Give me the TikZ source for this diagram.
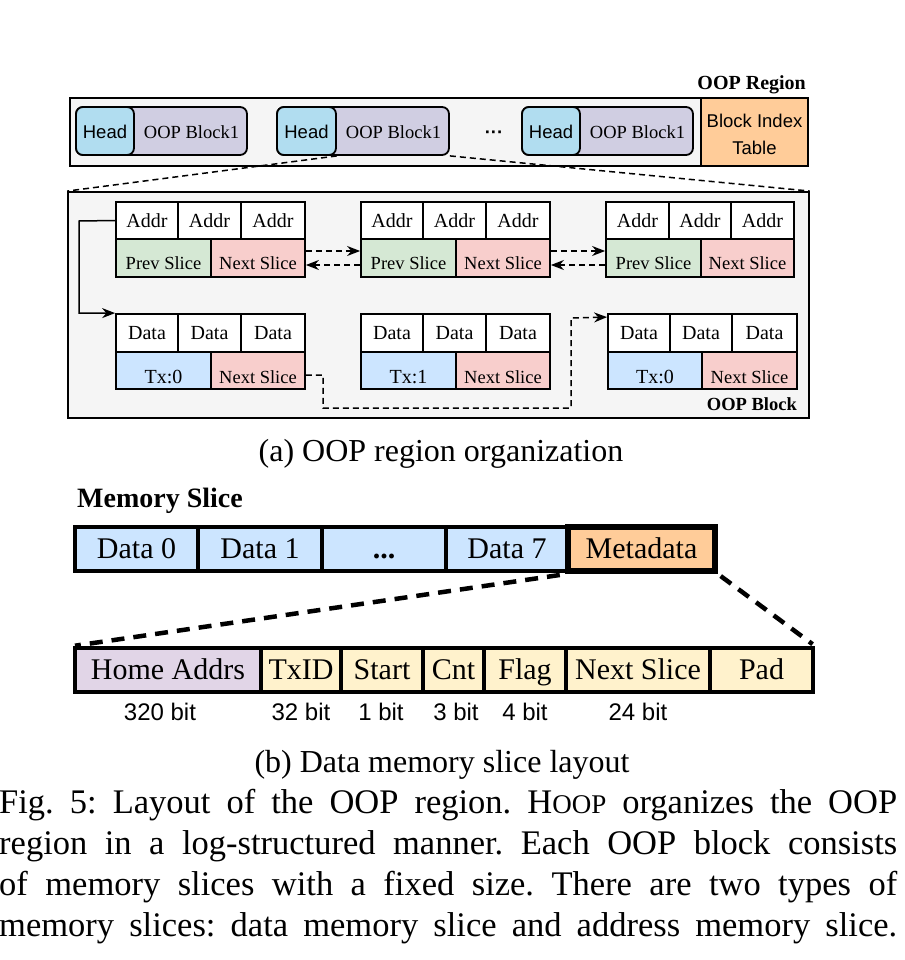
\documentclass[tikz,border=0pt]{standalone}
\usepackage{fontspec}
\setmainfont{Liberation Serif}
\setsansfont{Liberation Sans}
\usetikzlibrary{arrows.meta}
\frenchspacing
\definecolor{bggray}{HTML}{F5F5F5}
\definecolor{headblue}{HTML}{B1DDF0}
\definecolor{blockpurple}{HTML}{D0CEE2}
\definecolor{tableorange}{HTML}{FFCC99}
\definecolor{prevgreen}{HTML}{D5E8D4}
\definecolor{nextred}{HTML}{F8CECC}
\definecolor{txblue}{HTML}{CCE5FF}
\definecolor{homepurple}{HTML}{E1D5E7}
\definecolor{fieldyellow}{HTML}{FFF2CC}
\newcommand\fsz[2]{\fontsize{#1}{#2}\selectfont}
% [style]{name}{x1}{y1}{x2}{y2}{fill}{text}
\newcommand\boxcell[8][]{\node[cellbase,#1,fill=#7,minimum width={#5-#3},minimum height={#6-#4}] (#2) at ({(#3+#5)/2},{(#4+#6)/2}) {#8};}
\tikzset{
  cellbase/.style={draw=black, line width=1.8pt, inner sep=0pt, text depth=0pt},
  addrcell/.style={font=\fsz{20}{24}, text height=13.2pt},
  slicecell/.style={font=\fsz{18.5}{22}, text height=22pt},
  lowcell/.style={font=\fsz{20}{24}, text height=25pt},
  lownext/.style={font=\fsz{18.5}{22}, text height=25pt},
  bigcell/.style={font=\fsz{30}{36}, text height=19.9pt, line width=4pt},
  roundbox/.style={draw=black, line width=1.8pt, rounded corners=7pt, inner sep=0pt, minimum height=48},
  plaintext/.style={inner sep=0pt},
  thinarrow/.style={-{Stealth[length=13pt,width=10pt]}, line width=1.5pt},
  thindash/.style={line width=1.5pt, dash pattern=on 6pt off 4pt},
  bigdash/.style={line width=4.5pt, dash pattern=on 13pt off 9pt},
  bitlabel/.style={inner sep=0pt, anchor=base, font=\sffamily\fsz{24}{28}},
}
\begin{document}
\begin{tikzpicture}[x=1pt,y=-1pt]
\useasboundingbox (0,0) rectangle (904,960);

% ---------------- OOP region ----------------
\node[plaintext, anchor=base east, font=\bfseries\fsz{20}{24}] (regiontitle) at (806,90) {OOP Region};
\node[draw=black, line width=1.8pt, fill=bggray, minimum width=631, minimum height=68, inner sep=0pt] (region) at (385.5,132) {};
\node[draw=black, line width=1.8pt, fill=tableorange, minimum width=107, minimum height=68, inner sep=0pt,
      font=\sffamily\fsz{18.5}{27}, align=center, text height=45pt, text depth=0pt] (bit) at (754.5,132) {Block Index\\Table};

\foreach \i/\xa/\xh/\xb in {1/76/134/247, 2/277/336/449, 3/522/580/693}{
  \node[roundbox, fill=blockpurple, minimum width={\xb-\xa}] (blk\i) at ({(\xa+\xb)/2},131) {};
  \node[roundbox, fill=headblue, minimum width={\xh-\xa}, font=\sffamily\fsz{18.5}{22}, text height=16pt, text depth=0pt] (hd\i) at ({(\xa+\xh)/2},131) {Head};
  \node[plaintext, anchor=base, font=\fsz{18.5}{22}] (blk\i t) at ({(\xh+\xb)/2+1},139) {OOP Block1};
}
\node[plaintext, anchor=base, font=\sffamily\bfseries\fsz{18.5}{22}] (dots) at (494,139) {···};

% ---------------- OOP block ----------------
\node[draw=black, line width=1.8pt, fill=bggray, minimum width=741, minimum height=226, inner sep=0pt] (oopblk) at (438.5,305) {};
\node[plaintext, anchor=east, font=\bfseries\fsz{18.5}{22}] (blktitle) at (797,404) {OOP Block};

\draw[thindash] (hd2.south east) -- (oopblk.north west);
\draw[thindash] (blk2.south east) -- (oopblk.north east);

% address memory slices
\foreach \g/\a/\b/\c/\d/\s in {1/116/178/241/305/211, 2/361/423/486/550/456, 3/606/669/731/794/701}{
  \boxcell[addrcell]{g\g a1}{\a}{202}{\b}{239}{white}{Addr}
  \boxcell[addrcell]{g\g a2}{\b}{202}{\c}{239}{white}{Addr}
  \boxcell[addrcell]{g\g a3}{\c}{202}{\d}{239}{white}{Addr}
  \boxcell[slicecell]{g\g prev}{\a}{239}{\s}{277}{prevgreen}{Prev Slice}
  \boxcell[slicecell]{g\g next}{\s}{239}{\d}{277}{nextred}{Next Slice}
}
% data memory slices
\foreach \g/\a/\b/\c/\d/\s/\t in {1/116/178/241/305/211/0, 2/361/423/486/550/456/1, 3/608/670/732/797/702/0}{
  \boxcell[addrcell]{d\g a1}{\a}{314}{\b}{352}{white}{Data}
  \boxcell[addrcell]{d\g a2}{\b}{314}{\c}{352}{white}{Data}
  \boxcell[addrcell]{d\g a3}{\c}{314}{\d}{352}{white}{Data}
  \boxcell[lowcell]{d\g tx}{\a}{352}{\s}{389}{txblue}{Tx:\t}
  \boxcell[lownext]{d\g next}{\s}{352}{\d}{389}{nextred}{Next Slice}
}

% links between address slices
\draw[thindash, thinarrow] ([yshift=7pt]g1next.east) -- ([yshift=7pt]g2prev.west);
\draw[thindash, thinarrow] ([yshift=-7pt]g2prev.west) -- ([yshift=-7pt]g1next.east);
\draw[thindash, thinarrow] ([yshift=7pt]g2next.east) -- ([yshift=7pt]g3prev.west);
\draw[thindash, thinarrow] ([yshift=-7pt]g3prev.west) -- ([yshift=-7pt]g2next.east);

% address slice to data slice
\coordinate (lefttrack) at (79,221);
\draw[thinarrow] (g1a1.west) -- (lefttrack) |- (d1a1.north west);

% data slice chain
\coordinate (turnA) at (323,408);
\coordinate (turnB) at (571,318);
\draw[thindash, thinarrow] ([yshift=-4.5pt]d1next.east) -| (turnA) -| (turnB) -- ([yshift=-4pt]d3a1.north west);

\node[plaintext, anchor=base, font=\fsz{32}{38}] (capa) at (441,461) {(a) OOP region organization};

% ---------------- Memory slice ----------------
\node[plaintext, anchor=base west, font=\bfseries\fsz{28}{32}] (mstitle) at (77,507) {Memory Slice};
\boxcell[bigcell]{md0}{75}{527}{198}{571}{txblue}{Data 0}
\boxcell[bigcell]{md1}{198}{527}{322}{571}{txblue}{Data 1}
\boxcell[bigcell]{mdd}{322}{527}{446}{571}{txblue}{\textbf{...}}
\boxcell[bigcell]{md7}{446}{527}{568}{571}{txblue}{Data 7}
\boxcell[bigcell, line width=6.5pt]{meta}{568}{527}{715}{571}{tableorange}{Metadata}

\boxcell[bigcell]{home}{75}{648}{261}{692}{homepurple}{Home Addrs}
\boxcell[bigcell]{txid}{261}{648}{341}{692}{fieldyellow}{TxID}
\boxcell[bigcell]{start}{341}{648}{423}{692}{fieldyellow}{Start}
\boxcell[bigcell]{cnt}{423}{648}{484}{692}{fieldyellow}{Cnt}
\boxcell[bigcell]{flag}{484}{648}{566}{692}{fieldyellow}{Flag}
\boxcell[bigcell]{nslice}{566}{648}{710}{692}{fieldyellow}{Next Slice}
\boxcell[bigcell]{pad}{710}{648}{813}{692}{fieldyellow}{Pad}

\draw[bigdash, shorten <=5pt, shorten >=2pt] (meta.south west) -- (home.north west);
\draw[bigdash, shorten <=3pt, shorten >=3pt] (meta.south east) -- (pad.north east);

\node[bitlabel] (b320) at (160,720) {320 bit};
\node[bitlabel] (b32) at (301,720) {32 bit};
\node[bitlabel] (b1) at (381,720) {1 bit};
\node[bitlabel] (b3) at (456,720) {3 bit};
\node[bitlabel] (b4) at (525,720) {4 bit};
\node[bitlabel] (b24) at (638,720) {24 bit};

\node[plaintext, anchor=base, font=\fsz{32}{38}] (capb) at (442,772) {(b) Data memory slice layout};

% ---------------- Figure caption ----------------
\node[plaintext, anchor=base west, font=\fsz{34.5}{41}] (cap1) at (-1,813) {\makebox[898pt][s]{Fig. 5: Layout of the OOP region. H{\fsz{27}{32}OOP} organizes the OOP}};
\node[plaintext, anchor=base west, font=\fsz{34.5}{41}] (cap2) at (-1,854) {\makebox[898pt][s]{region in a log-structured manner. Each OOP block consists}};
\node[plaintext, anchor=base west, font=\fsz{34.5}{41}] (cap3) at (-1,895) {\makebox[898pt][s]{of memory slices with a fixed size. There are two types of}};
\node[plaintext, anchor=base west, font=\fsz{34.5}{41}] (cap4) at (-1,936) {\makebox[898pt][s]{memory slices: data memory slice and address memory slice.}};
\end{tikzpicture}
\end{document}
